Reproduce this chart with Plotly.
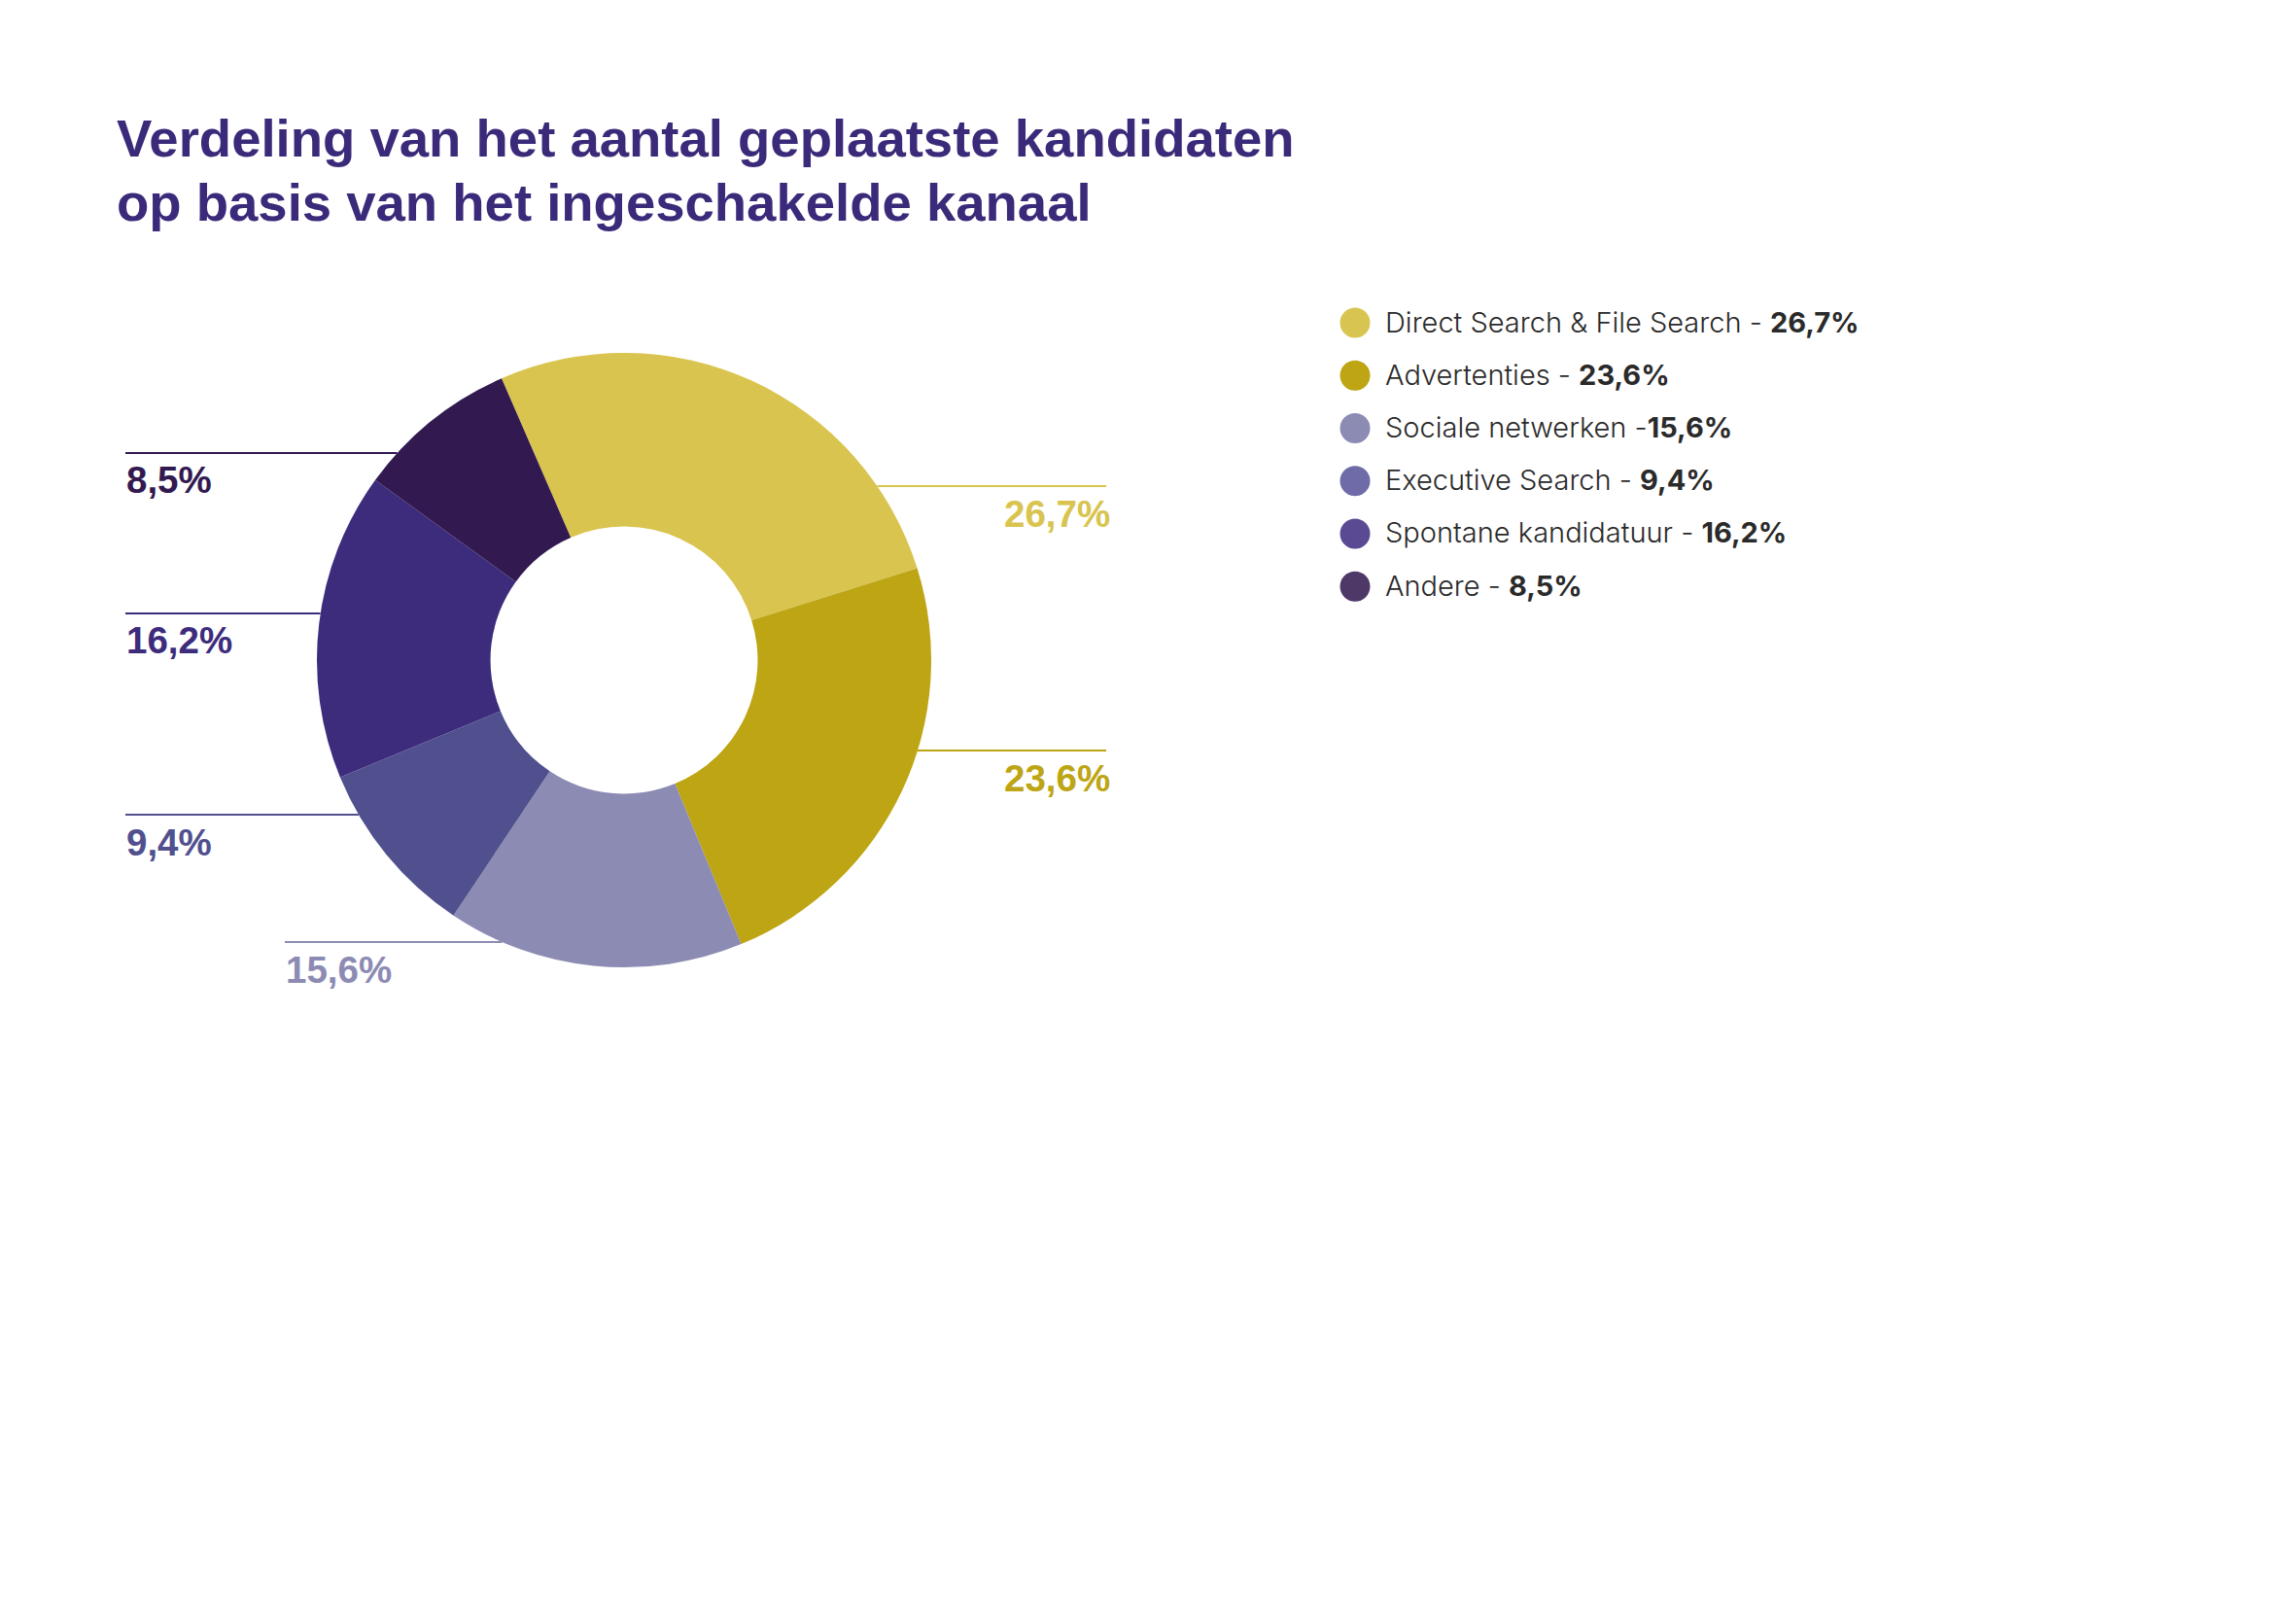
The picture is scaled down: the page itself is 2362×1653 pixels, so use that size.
import math
import plotly.graph_objects as go

# data
channels = [
    "Direct Search & File Search",
    "Advertenties",
    "Sociale netwerken",
    "Executive Search",
    "Spontane kandidatuur",
    "Andere",
]
shares = [26.7, 23.6, 15.6, 9.4, 16.2, 8.5]
legend_sep = [" - ", " - ", " -", " - ", " - ", " - "]
slice_colors = ["#D8C44E", "#BDA514", "#8C8BB4", "#51508F", "#3D2C7C", "#321A50"]
legend_colors = ["#D8C450", "#BDA514", "#8C8BB4", "#6E6BA8", "#5A4A94", "#4E3868"]
title_lines = ["Verdeling van het aantal geplaatste kandidaten",
               "op basis van het ingeschakelde kanaal"]

W, H = 2362, 1653
OFF = 8  # page body margin of the html file

# donut geometry (pixels on the page)
cx, cy, R = 642, 679, 316
label_side = ["right", "right", "left", "left", "left", "left"]
line_y_px = [500, 772, 969, 838, 631, 466]
line_end_px = [1138, 1138, 293, 129, 129, 129]


def px(x):
    return (x - OFF) / W


def py(y):
    return 1 - (y - OFF) / H


def fmt(v):
    return f"{v:.1f}".replace(".", ",") + "%"


fig = go.Figure(go.Pie(
    labels=channels,
    values=shares,
    hole=0.435,
    sort=False,
    direction="clockwise",
    rotation=-23.5,
    marker=dict(colors=slice_colors, line=dict(width=0)),
    textinfo="none",
    hoverinfo="label+percent",
    domain=dict(x=[px(cx - R), px(cx + R)], y=[py(cy + R), py(cy - R)]),
    showlegend=False,
))

shapes = []
annotations = []

# leader lines with the outside labels
for v, col, side, ly, lend in zip(shares, slice_colors, label_side, line_y_px, line_end_px):
    dx = math.sqrt(max(R ** 2 - (ly - cy) ** 2, 0))
    xstart = cx + dx if side == "right" else cx - dx
    shapes.append(dict(type="line", xref="paper", yref="paper",
                       x0=px(xstart), x1=px(lend), y0=py(ly), y1=py(ly),
                       line=dict(color=col, width=2)))
    annotations.append(dict(
        text=f"<b>{fmt(v)}</b>", xref="paper", yref="paper",
        x=px(lend + (5 if side == "right" else 0)), y=py(ly + 28),
        xanchor="right" if side == "right" else "left", yanchor="middle",
        showarrow=False, borderpad=0,
        font=dict(family="Liberation Sans", size=38.5, color=col),
    ))

# legend with round markers
leg_x, leg_y0, leg_step, dot_r = 1394, 332, 54.25, 15.5
for i, (name, v, sep, col) in enumerate(zip(channels, shares, legend_sep, legend_colors)):
    yy = leg_y0 + i * leg_step
    shapes.append(dict(type="circle", xref="paper", yref="paper",
                       x0=px(leg_x - dot_r), x1=px(leg_x + dot_r),
                       y0=py(yy + dot_r), y1=py(yy - dot_r),
                       fillcolor=col, line=dict(width=0)))
    annotations.append(dict(
        text=f"{name}{sep}<b>{fmt(v)}</b>", xref="paper", yref="paper",
        x=px(1424), y=py(yy - 1), xanchor="left", yanchor="middle",
        showarrow=False, borderpad=0,
        font=dict(family="Inter", size=29, color="#2A2A2A", weight=300),
    ))

# title, two lines
for i, line in enumerate(title_lines):
    annotations.append(dict(
        text=f"<b>{line}</b>", xref="paper", yref="paper",
        x=px(119), y=py(142 + i * 66.7),
        xanchor="left", yanchor="middle", showarrow=False, borderpad=0,
        font=dict(family="Liberation Sans", size=54.5, color="#3B2A7A"),
    ))

fig.update_layout(
    width=W, height=H,
    margin=dict(l=0, r=0, t=0, b=0),
    paper_bgcolor="white",
    plot_bgcolor="white",
    shapes=shapes,
    annotations=annotations,
)

fig.write_html("out.html")
